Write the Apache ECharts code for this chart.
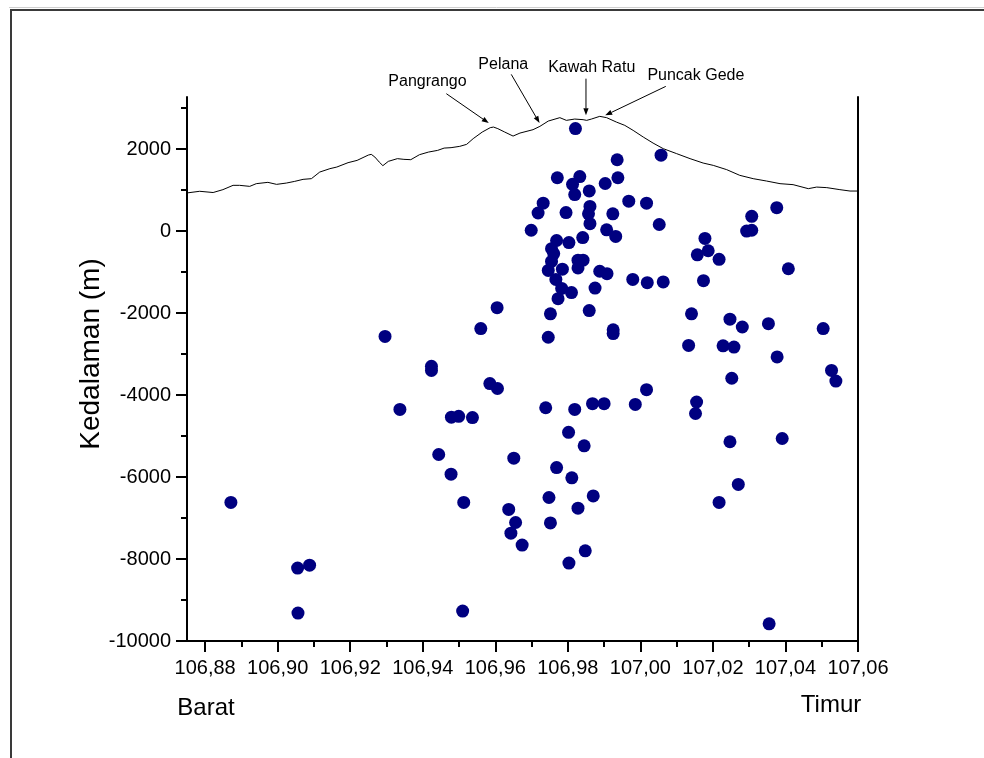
<!DOCTYPE html>
<html>
<head>
<meta charset="utf-8">
<script src="https://cdn.jsdelivr.net/npm/echarts@6/dist/echarts.min.js"></script>
<style>
  html, body { margin: 0; padding: 0; background: #fff; }
  #main { width: 984px; height: 758px; }
</style>
</head>
<body>
<div id="main"></div>
<script>
// sumbu
const lonTicks = [106.88, 106.90, 106.92, 106.94, 106.96, 106.98, 107.00, 107.02, 107.04, 107.06]
const lonMinorTicks = [106.89, 106.91, 106.93, 106.95, 106.97, 106.99, 107.01, 107.03, 107.05]
const depthTicks = [-10000, -8000, -6000, -4000, -2000, 0, 2000]
const depthMinorTicks = [-9000, -7000, -5000, -3000, -1000, 1000, 3000]

// hiposenter [bujur, kedalaman m]
const hypocenters = [
  [106.9821, 2500], [106.9936, 1740], [107.0057, 1850], [106.9771, 1300], [106.9833, 1330],
  [106.9813, 1140], [106.9819, 890], [106.9859, 980], [106.9903, 1160], [106.9938, 1300],
  [106.9732, 680], [106.9718, 440], [106.9795, 450], [106.9861, 600], [106.9857, 420],
  [106.9968, 730], [107.0017, 680], [106.9924, 420], [107.0052, 160], [106.9699, 20],
  [106.9861, 180], [106.9907, 30], [106.9932, -130], [106.9769, -230], [106.9803, -280],
  [106.9841, -160], [106.9755, -430], [106.9761, -550], [106.9755, -740], [106.9828, -710],
  [106.9842, -710], [106.9828, -900], [106.9746, -960], [106.9785, -930], [106.9767, -1180],
  [106.9888, -980], [106.9908, -1040], [106.9979, -1180], [107.0019, -1260], [107.0063, -1240],
  [107.0178, -180], [107.0187, -480], [107.0157, -580], [107.0217, -690], [107.0174, -1210],
  [106.9783, -1400], [106.9810, -1500], [106.9773, -1650], [106.9875, -1390], [106.9605, -1870],
  [106.9752, -2020], [106.9859, -1940], [107.0141, -2020], [106.9746, -2590], [106.9925, -2410],
  [106.9925, -2500], [107.0133, -2790], [107.0228, -2800], [107.0376, 570], [107.0307, 360],
  [107.0293, 0], [107.0307, 20], [107.0408, -920], [107.0247, -2150], [107.0281, -2340],
  [107.0353, -2260], [107.0504, -2380], [107.0258, -2830], [107.0377, -3070], [107.0527, -3400],
  [107.0539, -3660], [107.0155, -4170], [107.0152, -4450], [107.0252, -3590], [107.0247, -5140],
  [107.0391, -5060], [107.0270, -6180], [107.0217, -6620], [107.0355, -9580], [106.9560, -2380],
  [106.9296, -2570], [106.9424, -3300], [106.9424, -3400], [106.9585, -3720], [106.9606, -3840],
  [106.9337, -4350], [106.9479, -4540], [106.9499, -4520], [106.9537, -4550], [106.9444, -5450],
  [106.9478, -5930], [106.9513, -6620], [106.8871, -6620], [106.9088, -8150], [106.9055, -8220],
  [106.9056, -9320], [106.9510, -9270], [107.0017, -3870], [106.9739, -4310], [106.9819, -4350],
  [106.9868, -4210], [106.9900, -4210], [106.9986, -4230], [106.9802, -4910], [106.9845, -5240],
  [106.9651, -5540], [106.9769, -5770], [106.9811, -6020], [106.9748, -6500], [106.9870, -6460],
  [106.9828, -6760], [106.9637, -6790], [106.9656, -7110], [106.9643, -7370], [106.9674, -7660],
  [106.9752, -7120], [106.9848, -7800], [106.9803, -8100]
]

// profil topografi
const profileLon = [
  106.875, 106.8785, 106.8822, 106.8849, 106.8877, 106.8895, 106.8923, 106.8941, 106.8973, 106.8997,
  106.9024, 106.9047, 106.907, 106.9093, 106.9116, 106.9144, 106.9163, 106.9194, 106.9219, 106.925,
  106.9258, 106.9268, 106.928, 106.929, 106.9305, 106.933, 106.9348, 106.9367, 106.9391, 106.9416,
  106.9441, 106.9459, 106.9478, 106.9502, 106.9521, 106.9539, 106.9564, 106.9586, 106.9595, 106.9607,
  106.9626, 106.9649, 106.9668, 106.9704, 106.9723, 106.9746, 106.9778, 106.9796, 106.9819, 106.9842,
  106.9852, 106.9865, 106.9888, 106.9907, 106.9934, 106.9957, 106.998, 107.0008, 107.0035, 107.0063,
  107.01, 107.0137, 107.0173, 107.0201, 107.0238, 107.0274, 107.0311, 107.0348, 107.0385, 107.0421,
  107.0463, 107.0486, 107.0514, 107.055, 107.0578, 107.06
]
const profileElev = [
  930, 970, 940, 1010, 1115, 1115, 1090, 1156, 1188, 1139,
  1171, 1212, 1261, 1278, 1439, 1522, 1561, 1668, 1724, 1854,
  1871, 1805, 1683, 1595, 1700, 1766, 1749, 1741, 1863, 1927,
  1968, 2024, 2034, 2066, 2115, 2254, 2415, 2522, 2537, 2498,
  2415, 2317, 2390, 2473, 2554, 2683, 2766, 2700, 2732, 2717,
  2700, 2732, 2798, 2766, 2658, 2578, 2456, 2293, 2146, 2010,
  1888, 1766, 1659, 1602, 1498, 1359, 1278, 1220, 1156, 1132,
  1034, 1073, 1059, 1010, 976, 976
]

// keterangan puncak
const peakNames = ['Pangrango', 'Pelana', 'Kawah Ratu', 'Puncak Gede']
const peakLabelAt = [[106.9413, 3639], [106.9622, 4049], [106.9866, 3993], [107.0153, 3797]]
const peakArrowFrom = [[106.9465, 3351], [106.9644, 3822], [106.9850, 3717], [107.0070, 3529]]
const peakArrowTo = [[106.9582, 2634], [106.9722, 2634], [106.9850, 2822], [106.9903, 2822]]

const font = 'Liberation Sans, Arial, sans-serif'
const lonMin = 106.875
const lonMax = 107.06
const depthMin = -10000
const depthMax = 3270

const chart = echarts.init(document.getElementById('main'))

const tickStyle = { color: '#000', width: 2 }

const option = {
  backgroundColor: '#fff',
  animation: false,
  grid: { left: 187, right: 126, top: 97, bottom: 117 },
  xAxis: [
    {
      type: 'value',
      min: lonMin,
      max: lonMax,
      position: 'bottom',
      axisLine: { show: true, onZero: false, lineStyle: tickStyle },
      axisTick: { show: true, customValues: lonTicks, length: 11, lineStyle: tickStyle },
      axisLabel: {
        customValues: lonTicks,
        margin: 17,
        color: '#000',
        fontSize: 20,
        fontFamily: font,
        formatter: (v) => v.toFixed(2).replace('.', ',')
      },
      splitLine: { show: false }
    },
    {
      type: 'value',
      min: lonMin,
      max: lonMax,
      position: 'bottom',
      axisLine: { show: false, onZero: false },
      axisTick: { show: true, customValues: lonMinorTicks, length: 6, lineStyle: tickStyle },
      axisLabel: { show: false },
      splitLine: { show: false }
    }
  ],
  yAxis: [
    {
      type: 'value',
      min: depthMin,
      max: depthMax,
      position: 'left',
      axisLine: { show: true, onZero: false, lineStyle: tickStyle },
      axisTick: { show: true, customValues: depthTicks, length: 11, lineStyle: tickStyle },
      axisLabel: {
        customValues: depthTicks,
        margin: 16,
        color: '#000',
        fontSize: 20,
        fontFamily: font,
        formatter: (v) => String(v)
      },
      splitLine: { show: false }
    },
    {
      type: 'value',
      min: depthMin,
      max: depthMax,
      position: 'left',
      axisLine: { show: false, onZero: false },
      axisTick: { show: true, customValues: depthMinorTicks, length: 6, lineStyle: tickStyle },
      axisLabel: { show: false },
      splitLine: { show: false }
    },
    {
      type: 'value',
      min: depthMin,
      max: depthMax,
      position: 'right',
      axisLine: { show: true, onZero: false, lineStyle: tickStyle },
      axisTick: { show: false },
      axisLabel: { show: false },
      splitLine: { show: false }
    }
  ],
  series: [
    {
      name: 'Topografi',
      type: 'line',
      data: profileLon.map((x, i) => [x, profileElev[i]]),
      showSymbol: false,
      lineStyle: { color: '#000', width: 1 },
      z: 2
    },
    {
      name: 'Hiposenter',
      type: 'scatter',
      data: hypocenters,
      symbolSize: 13,
      itemStyle: { color: '#000080', opacity: 1 },
      z: 3
    }
  ]
}

chart.setOption(option)

// frame, judul sumbu, label arah dan keterangan puncak
const toPx = (p) => chart.convertToPixel({ xAxisIndex: 0, yAxisIndex: 0 }, p)

const graphics = [
  { type: 'line', shape: { x1: 9, y1: 7.5, x2: 984, y2: 7.5 }, style: { stroke: '#cfcfcf', lineWidth: 1 } },
  { type: 'rect', shape: { x: 11, y: 10, width: 990, height: 770 }, style: { fill: null, stroke: '#3a3a3a', lineWidth: 2 } },
  {
    type: 'text', x: 91, y: 354, rotation: Math.PI / 2,
    style: { text: 'Kedalaman (m)', fontSize: 28, fontFamily: font, fill: '#000', align: 'center', verticalAlign: 'middle' }
  },
  { type: 'text', x: 206, y: 708, style: { text: 'Barat', fontSize: 24, fontFamily: font, fill: '#000', align: 'center', verticalAlign: 'middle' } },
  { type: 'text', x: 831, y: 705, style: { text: 'Timur', fontSize: 24, fontFamily: font, fill: '#000', align: 'center', verticalAlign: 'middle' } }
]

peakNames.forEach((name, i) => {
  const l = toPx(peakLabelAt[i])
  const a = toPx(peakArrowFrom[i])
  const b = toPx(peakArrowTo[i])
  graphics.push({
    type: 'text', x: l[0], y: l[1],
    style: { text: name, fontSize: 16, fontFamily: font, fill: '#000', align: 'center', verticalAlign: 'middle' }
  })
  const dx = b[0] - a[0]
  const dy = b[1] - a[1]
  const len = Math.sqrt(dx * dx + dy * dy)
  const ux = dx / len
  const uy = dy / len
  const head = 7
  const half = 2.6
  const bx = b[0] - ux * head
  const by = b[1] - uy * head
  graphics.push({
    type: 'line',
    shape: { x1: a[0], y1: a[1], x2: bx, y2: by },
    style: { stroke: '#000', lineWidth: 1 }
  })
  graphics.push({
    type: 'polygon',
    shape: { points: [[b[0], b[1]], [bx - uy * half, by + ux * half], [bx + uy * half, by - ux * half]] },
    style: { fill: '#000' }
  })
})

chart.setOption({ graphic: graphics })
</script>
</body>
</html>
